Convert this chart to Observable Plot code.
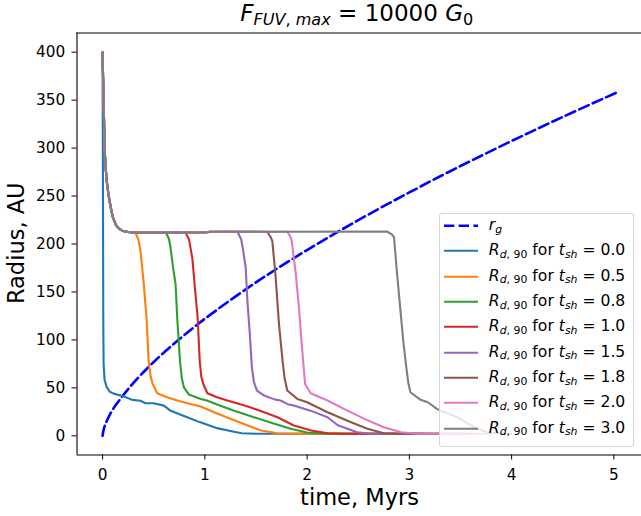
<!DOCTYPE html>
<html>
<head>
<meta charset="utf-8">
<script src="https://cdn.jsdelivr.net/npm/d3@7"></script>
<script src="https://cdn.jsdelivr.net/npm/@observablehq/plot@0.6"></script>
<style>
  html, body { margin: 0; padding: 0; background: white; }
  body { font-family: "DejaVu Sans", sans-serif; color: black; }
  #wrap { position: relative; width: 641px; height: 516px; overflow: hidden; }
  #chart { position: absolute; left: 0; top: 0; }
  .title { position: absolute; left: 356.7px; top: 2.2px; transform: translateX(-50%); font-size: 23px; line-height: 23px; white-space: nowrap; }
  .xlabel { position: absolute; left: 359.5px; top: 486px; transform: translateX(-50%); font-size: 22.5px; line-height: 22.5px; white-space: nowrap; }
  .ylabel { position: absolute; left: 16.2px; top: 243.5px; width: 300px; height: 22.5px; margin-left: -150px; margin-top: -11.25px; text-align: center; transform: rotate(-90deg); font-size: 22.5px; line-height: 22.5px; white-space: nowrap; }
  .sub { font-size: 70%; position: relative; top: 0.24em; }
  .legend { position: absolute; left: 439px; top: 213px; width: 193px; height: 232px; background: rgba(255,255,255,0.8); border: 1.2px solid rgba(204,204,204,0.8); border-radius: 3px; }
  .row { position: absolute; left: 0; height: 15.6px; font-size: 15.6px; line-height: 15.6px; white-space: nowrap; }
  .row svg { position: absolute; left: 3.8px; top: 0; overflow: visible; }
  .row span.txt { position: absolute; left: 48.8px; top: 0; }
</style>
</head>
<body>
<div id="wrap">
  <div id="chart"></div>
  <div class="title"><i>F</i><span class="sub"><i>FUV</i>, <i>max</i></span> = 10000 <i>G</i><span class="sub">0</span></div>
  <div class="xlabel">time, Myrs</div>
  <div class="ylabel">Radius, AU</div>
  <div class="legend" id="legend"></div>
</div>
<script>
// ---- data ----
const xTicks = [0, 1, 2, 3, 4, 5];
const yTicks = [0, 50, 100, 150, 200, 250, 300, 350, 400];

const shockTimes = ["0.0", "0.5", "0.8", "1.0", "1.5", "1.8", "2.0", "3.0"];
const seriesColors = ["#1f77b4", "#ff7f0e", "#2ca02c", "#d62728", "#9467bd", "#8c564b", "#e377c2", "#7f7f7f"];

// gravitational radius r_g (dashed)
const rgTime   = [0, 0.01, 0.02, 0.05, 0.1, 0.2, 0.3, 0.5, 0.75, 1, 1.5, 2, 2.5, 3, 3.5, 4, 4.5, 5.05];
const rgRadius = [0, 6, 10, 17.5, 27.5, 42, 55, 77, 100.7, 122, 160, 193.7, 224.8, 253.8, 281.3, 307.4, 332.5, 359];

// common initial shrinking of the disc (all runs with t_sh > 0)
const initialDecay = [[0, 400], [0.005, 375], [0.01, 352], [0.02, 300], [0.03, 280], [0.04, 266], [0.06, 250],
  [0.08, 238], [0.10, 228], [0.13, 220], [0.16, 216], [0.20, 213.5], [0.25, 212.5], [0.30, 212]];

const rd00 = [[0, 400], [0.004, 250], [0.007, 120], [0.01, 75], [0.02, 58], [0.04, 51], [0.07, 46], [0.11, 44],
  [0.21, 41], [0.29, 37.5], [0.37, 36.5], [0.42, 34], [0.50, 34], [0.60, 31.5], [0.66, 26.5], [0.79, 21],
  [0.95, 14.3], [1.12, 8], [1.25, 5], [1.36, 2.6], [1.5, 2.2], [2.55, 2.2]];
const rd05 = [[0.32, 212], [0.35, 205], [0.37, 193], [0.40, 162], [0.43, 123], [0.45, 78], [0.47, 62], [0.49, 54],
  [0.535, 44.4], [0.63, 40.2], [0.73, 36.8], [0.83, 34], [0.96, 30.5], [1.09, 24.6], [1.25, 17.7], [1.42, 10.7],
  [1.55, 5.5], [1.71, 2.7], [1.85, 2.3], [2.9, 2.3]];
const rd08 = [[0.62, 212], [0.65, 205], [0.665, 196], [0.69, 175], [0.714, 158], [0.73, 123], [0.757, 78], [0.775, 60],
  [0.795, 50.6], [0.845, 43], [0.96, 38.5], [1.02, 36.8], [1.12, 32.6], [1.28, 26.4], [1.48, 19.4], [1.68, 12.5],
  [1.84, 7.3], [2.0, 3.4], [2.17, 2.2], [3.15, 2.2]];
const rd10 = [[0.81, 212], [0.845, 205], [0.86, 196], [0.878, 185], [0.90, 158], [0.93, 123], [0.95, 78], [0.965, 62],
  [0.985, 54], [1.025, 44.4], [1.12, 40.2], [1.22, 36.8], [1.28, 35], [1.42, 30.5], [1.58, 24.6], [1.71, 19.4],
  [1.87, 10.7], [2.04, 5.5], [2.2, 2.7], [2.35, 2.2], [3.4, 2.2]];
const rd15 = [[1.0, 212], [1.05, 212.6], [1.32, 212.6], [1.355, 205], [1.37, 196.5], [1.40, 175], [1.416, 141], [1.44, 106],
  [1.46, 71.5], [1.48, 56], [1.51, 47.2], [1.58, 42], [1.68, 38], [1.74, 36.8], [1.81, 33], [1.87, 31.6],
  [2.04, 26], [2.2, 19.4], [2.3, 11], [2.49, 3.8], [2.62, 2.2], [3.5, 2.2]];
const rd18 = [[1.0, 212], [1.05, 212.6], [1.61, 212.8], [1.645, 207], [1.66, 203], [1.69, 168.7], [1.725, 116.7],
  [1.76, 78.4], [1.78, 60], [1.806, 47.2], [1.905, 38.5], [2.0, 35], [2.2, 24.6], [2.43, 14.2], [2.59, 7.3],
  [2.75, 2.7], [2.85, 2.2], [3.6, 2.2]];
const rd20 = [[1.0, 212], [1.05, 212.6], [1.806, 212.8], [1.84, 207], [1.85, 203], [1.89, 168.7], [1.92, 134],
  [1.95, 92.3], [1.98, 54], [2.035, 44.4], [2.2, 36.8], [2.36, 28.1], [2.56, 17.7], [2.75, 9], [2.92, 3.8],
  [3.08, 2.2], [3.8, 2.2]];
const rd30 = [[1.0, 212], [1.05, 212.8], [2.78, 213], [2.83, 210], [2.85, 206.9], [2.88, 168.7], [2.91, 134],
  [2.94, 99.3], [2.97, 71.5], [2.99, 55], [3.01, 45.4], [3.11, 37.5], [3.18, 35], [3.27, 28.1], [3.31, 26],
  [3.47, 19.4], [3.63, 9], [3.76, 3.8], [3.9, 2.2], [4.0, 2.2]];

// ---- build tables ----
const rgData = rgTime.map((t, i) => ({t, r: rgRadius[i]}));
const runs = [rd00, rd05, rd08, rd10, rd15, rd18, rd20, rd30].map((pts, i) =>
  (i === 0 ? pts : initialDecay.concat(pts)).map(([t, r]) => ({t, r, tsh: shockTimes[i]})));

const plot = Plot.plot({
  width: 641,
  height: 516,
  marginTop: 32.5,
  marginBottom: 61.5,
  marginLeft: 76.5,
  marginRight: 0,
  style: {fontFamily: "DejaVu Sans", fontSize: "15.3px", color: "black", background: "transparent", overflow: "visible"},
  x: {domain: [-0.25, 5.27]},
  y: {domain: [-20, 420]},
  marks: [
    Plot.line(rgData, {x: "t", y: "r", stroke: "#0000ff", strokeWidth: 2.6, strokeDasharray: "10.3,4.4", curve: "catmull-rom"}),
    ...runs.map((d, i) => Plot.line(d, {x: "t", y: "r", stroke: seriesColors[i], strokeWidth: 2.1, strokeLinejoin: "round"})),
    Plot.axisX({ticks: xTicks, tickSize: 5, tickPadding: 9, label: null, tickFormat: d => String(d)}),
    Plot.axisY({ticks: yTicks, tickSize: 5, tickPadding: 6.8, label: null, tickFormat: d => String(d)}),
    Plot.ruleX([-0.25], {stroke: "black", strokeWidth: 1.1}),
    Plot.ruleY([-20, 420], {stroke: "black", strokeWidth: 1.1})
  ]
});
document.getElementById("chart").appendChild(plot);

// ---- legend ----
const legend = document.getElementById("legend");
const rowCenter0 = 11.8;   // relative to legend inner box
const rowStep = 25.3;
function addRow(i, color, dashed, html) {
  const row = document.createElement("div");
  row.className = "row";
  row.style.top = (rowCenter0 + i * rowStep - 7.7) + "px";
  row.innerHTML = `<svg width="34" height="15"><line x1="0" x2="34" y1="7.7" y2="7.7" stroke="${color}" stroke-width="${dashed ? 2.6 : 2.1}" ${dashed ? 'stroke-dasharray="10.3,4.4"' : ''}/></svg><span class="txt">${html}</span>`;
  legend.appendChild(row);
}
addRow(0, "#0000ff", true, `<i>r</i><span class="sub"><i>g</i></span>`);
shockTimes.forEach((ts, i) => {
  addRow(i + 1, seriesColors[i], false,
    `<i>R</i><span class="sub"><i>d</i>, 90</span> for <i>t</i><span class="sub"><i>sh</i></span> = ${ts}`);
});
</script>
</body>
</html>
